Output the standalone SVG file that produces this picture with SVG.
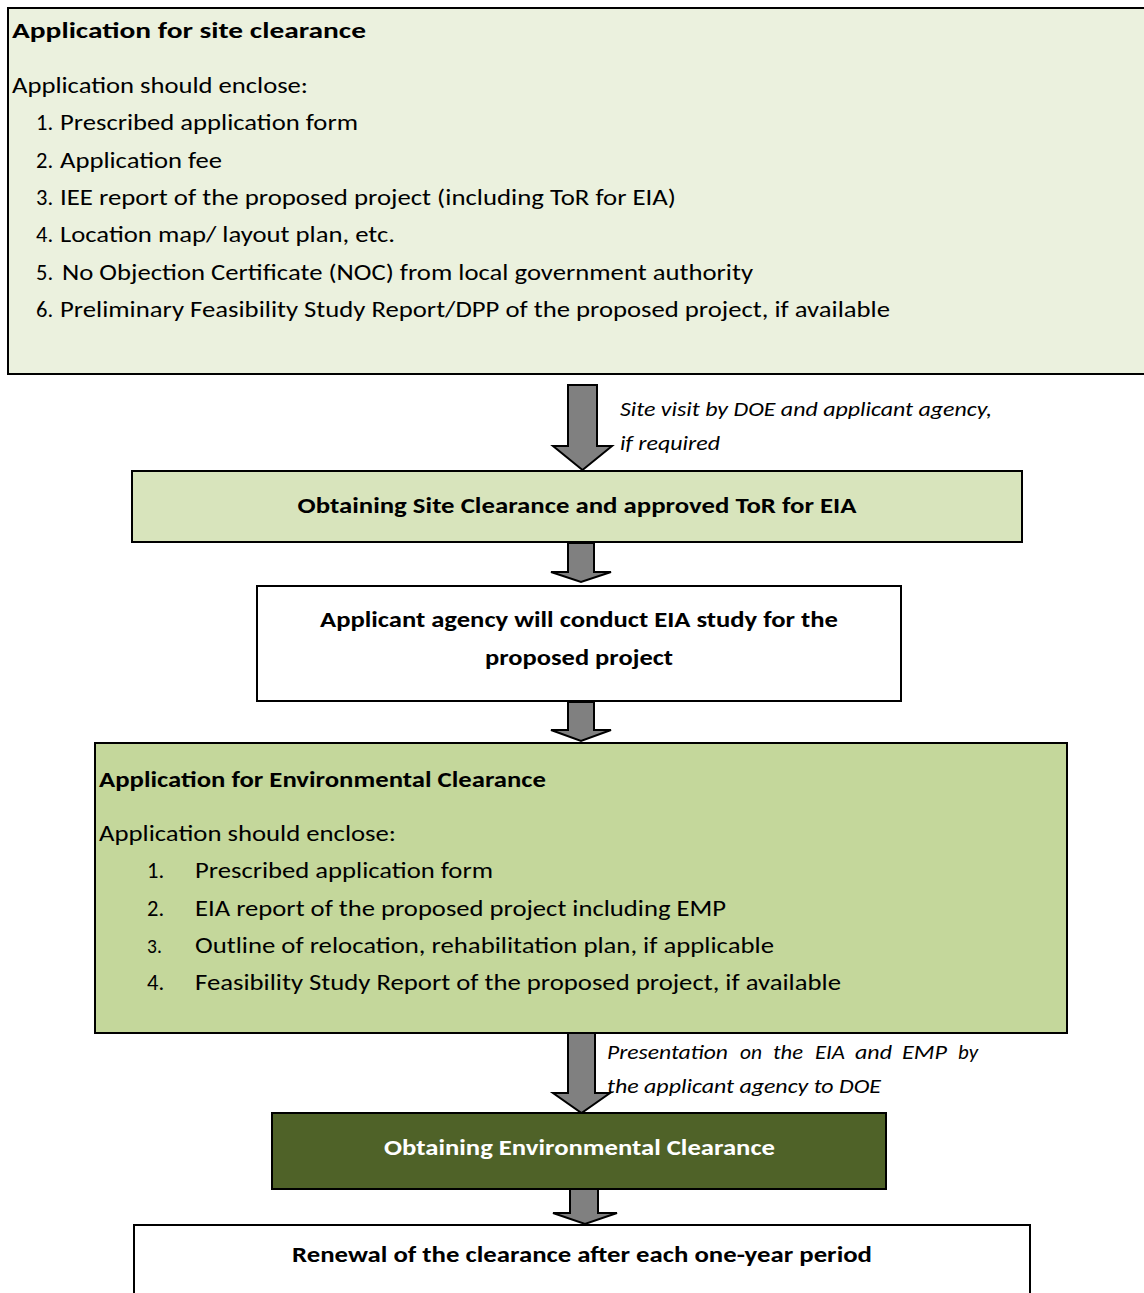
<svg xmlns="http://www.w3.org/2000/svg" width="1144" height="1293" viewBox="0 0 1144 1293">
<style>
text{font-family:Carlito,Lato,"Liberation Sans",sans-serif;fill:#000}
.b{font-weight:bold;font-size:23px}
.r{font-size:22.5px}
.i{font-style:italic;font-size:21px}
.c{text-anchor:middle}
.w{fill:#fff}
.box{stroke:#000;stroke-width:2}
.arr{fill:#808080;stroke:#000;stroke-width:2;stroke-linejoin:miter}
</style>
<rect width="1144" height="1293" fill="#fff"/>
<g id="connectors">
<path class="arr" d="M568,385H597V446H612L582.5,470L553,446H568Z"/>
<path class="arr" d="M568,543H594V572H611L581,582L551,572H568Z"/>
<path class="arr" d="M568,702H594V730H611L581,741L551,730H568Z"/>
<path class="arr" d="M568,1033H595V1093H610L581.5,1113L553,1093H568Z"/>
<path class="arr" d="M570,1189H598V1213H617L585,1224L553,1213H570Z"/>
<text class="i" x="620" y="416" textLength="372" lengthAdjust="spacingAndGlyphs">Site visit by DOE and applicant agency,</text>
<text class="i" x="620" y="450" textLength="100" lengthAdjust="spacingAndGlyphs">if required</text>
<text class="i" y="1059"><tspan x="607" textLength="121" lengthAdjust="spacingAndGlyphs">Presentation</tspan><tspan x="740" textLength="22" lengthAdjust="spacingAndGlyphs">on</tspan><tspan x="773" textLength="30" lengthAdjust="spacingAndGlyphs">the</tspan><tspan x="815" textLength="30" lengthAdjust="spacingAndGlyphs">EIA</tspan><tspan x="855" textLength="37" lengthAdjust="spacingAndGlyphs">and</tspan><tspan x="902" textLength="45" lengthAdjust="spacingAndGlyphs">EMP</tspan><tspan x="958" textLength="20" lengthAdjust="spacingAndGlyphs">by</tspan></text>
<text class="i" x="607" y="1093" textLength="274" lengthAdjust="spacingAndGlyphs">the applicant agency to DOE</text>
</g>
<g id="site-application">
<rect class="box" x="8" y="8" width="1140" height="366" fill="#ebf1de"/>
<text class="b" x="12" y="38" textLength="354" lengthAdjust="spacingAndGlyphs">Application for site clearance</text>
<text class="r" x="12" y="93" textLength="296" lengthAdjust="spacingAndGlyphs">Application should enclose:</text>
<text class="r" x="36" y="130">1.</text><text class="r" x="60" y="130" textLength="298" lengthAdjust="spacingAndGlyphs">Prescribed application form</text>
<text class="r" x="36" y="168">2.</text><text class="r" x="60" y="168" textLength="162" lengthAdjust="spacingAndGlyphs">Application fee</text>
<text class="r" x="36" y="205">3.</text><text class="r" x="60" y="205" textLength="616" lengthAdjust="spacingAndGlyphs">IEE report of the proposed project (including ToR for EIA)</text>
<text class="r" x="36" y="242">4.</text><text class="r" x="60" y="242" textLength="335" lengthAdjust="spacingAndGlyphs">Location map/ layout plan, etc.</text>
<text class="r" x="36" y="280">5.</text><text class="r" x="62" y="280" textLength="691" lengthAdjust="spacingAndGlyphs">No Objection Certificate (NOC) from local government authority</text>
<text class="r" x="36" y="317">6.</text><text class="r" x="60" y="317" textLength="830" lengthAdjust="spacingAndGlyphs">Preliminary Feasibility Study Report/DPP of the proposed project, if available</text>
</g>
<g id="site-clearance">
<rect class="box" x="132" y="471" width="890" height="71" fill="#d8e4bc"/>
<text class="b c" x="577" y="513" textLength="559" lengthAdjust="spacingAndGlyphs">Obtaining Site Clearance and approved ToR for EIA</text>
</g>
<g id="eia-study">
<rect class="box" x="257" y="586" width="644" height="115" fill="#fff"/>
<text class="b c" x="579" y="627" textLength="518" lengthAdjust="spacingAndGlyphs">Applicant agency will conduct EIA study for the</text>
<text class="b c" x="579" y="665" textLength="188" lengthAdjust="spacingAndGlyphs">proposed project</text>
</g>
<g id="env-application">
<rect class="box" x="95" y="743" width="972" height="290" fill="#c4d79b"/>
<text class="b" x="99" y="787" textLength="447" lengthAdjust="spacingAndGlyphs">Application for Environmental Clearance</text>
<text class="r" x="99" y="841" textLength="297" lengthAdjust="spacingAndGlyphs">Application should enclose:</text>
<text class="r" x="147" y="878">1.</text><text class="r" x="195" y="878" textLength="298" lengthAdjust="spacingAndGlyphs">Prescribed application form</text>
<text class="r" x="147" y="916">2.</text><text class="r" x="195" y="916" textLength="531" lengthAdjust="spacingAndGlyphs">EIA report of the proposed project including EMP</text>
<text class="r" x="147" y="953" style="font-size:19.5px">3.</text><text class="r" x="195" y="953" textLength="579" lengthAdjust="spacingAndGlyphs">Outline of relocation, rehabilitation plan, if applicable</text>
<text class="r" x="147" y="990">4.</text><text class="r" x="195" y="990" textLength="646" lengthAdjust="spacingAndGlyphs">Feasibility Study Report of the proposed project, if available</text>
</g>
<g id="env-clearance">
<rect class="box" x="272" y="1113" width="614" height="76" fill="#4f6228"/>
<text class="b c w" x="579.5" y="1155" textLength="391" lengthAdjust="spacingAndGlyphs">Obtaining Environmental Clearance</text>
</g>
<g id="renewal">
<rect class="box" x="134" y="1225" width="896" height="80" fill="#fff"/>
<text class="b c" x="582" y="1262" textLength="580" lengthAdjust="spacingAndGlyphs">Renewal of the clearance after each one-year period</text>
</g>
</svg>
